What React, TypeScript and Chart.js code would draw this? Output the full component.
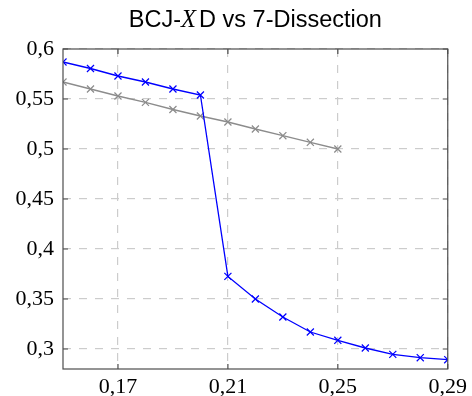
import React, { useEffect, useRef } from "react";
import { Chart, registerables } from "chart.js";

Chart.register(...registerables);

const blueX = [0.15, 0.16, 0.17, 0.18, 0.19, 0.2, 0.21, 0.22, 0.23, 0.24, 0.25, 0.26, 0.27, 0.28, 0.29];
const blueY = [0.587, 0.5805, 0.573, 0.567, 0.56, 0.554, 0.3726, 0.35, 0.332, 0.317, 0.3087, 0.301, 0.2946, 0.2913, 0.2893];
const grayX = [0.15, 0.16, 0.17, 0.18, 0.19, 0.2, 0.21, 0.22, 0.23, 0.24, 0.25];
const grayY = [0.567, 0.56, 0.553, 0.5466, 0.5395, 0.533, 0.527, 0.52, 0.5133, 0.5067, 0.5];
const xTicks = [0.17, 0.21, 0.25, 0.29];
const yTicks = [0.3, 0.35, 0.4, 0.45, 0.5, 0.55, 0.6];
const titleParts = [
  { text: "BCJ-", italic: false },
  { text: "X", italic: true },
  { text: "D vs 7-Dissection", italic: false },
];

const fmt = (v: number) => String(Math.round(v * 100) / 100).replace(".", ",");

const boxPlugin = {
  id: "boxPlugin",
  afterDraw(chart: any) {
    const { ctx, chartArea: a, scales } = chart;
    ctx.save();
    ctx.strokeStyle = "#4d4d4d";
    ctx.lineWidth = 1.2;
    ctx.setLineDash([]);
    ctx.strokeRect(a.left, a.top, a.right - a.left, a.bottom - a.top);
    const t = 5;
    ctx.beginPath();
    for (const v of xTicks) {
      const px = scales.x.getPixelForValue(v);
      ctx.moveTo(px, a.bottom);
      ctx.lineTo(px, a.bottom - t);
      ctx.moveTo(px, a.top);
      ctx.lineTo(px, a.top + t);
    }
    for (const v of yTicks) {
      const py = scales.y.getPixelForValue(v);
      ctx.moveTo(a.left, py);
      ctx.lineTo(a.left + t, py);
      ctx.moveTo(a.right, py);
      ctx.lineTo(a.right - t, py);
    }
    ctx.stroke();
    // title
    const normal = "23.5px 'Liberation Sans', sans-serif";
    const ital = "italic 24.5px 'Liberation Serif', serif";
    let total = 0;
    for (const p of titleParts) {
      ctx.font = p.italic ? ital : normal;
      total += ctx.measureText(p.text).width + (p.italic ? 3 : 0);
    }
    let x = (a.left + a.right) / 2 - total / 2;
    ctx.fillStyle = "#000";
    ctx.textBaseline = "alphabetic";
    ctx.textAlign = "left";
    for (const p of titleParts) {
      ctx.font = p.italic ? ital : normal;
      ctx.fillText(p.text, x, 27);
      x += ctx.measureText(p.text).width + (p.italic ? 3 : 0);
    }
    ctx.restore();
  },
};

export default function App() {
  const ref = useRef<HTMLCanvasElement>(null);
  useEffect(() => {
    if (!ref.current) return;
    const chart = new Chart(ref.current, {
      type: "line",
      data: {
        datasets: [
          {
            data: blueX.map((x, i) => ({ x, y: blueY[i] })),
            borderColor: "#0000ff",
            backgroundColor: "#0000ff",
            borderWidth: 1.3,
            pointStyle: "crossRot",
            pointRadius: 5,
            pointBorderWidth: 1.2,
            tension: 0,
          },
          {
            data: grayX.map((x, i) => ({ x, y: grayY[i] })),
            borderColor: "#8c8c8c",
            backgroundColor: "#8c8c8c",
            borderWidth: 1.3,
            pointStyle: "crossRot",
            pointRadius: 5,
            pointBorderWidth: 1.2,
            tension: 0,
          },
        ],
      },
      options: {
        animation: false,
        responsive: true,
        maintainAspectRatio: false,
        layout: { padding: { top: 49, right: 21, left: 0, bottom: 0 } },
        plugins: { legend: { display: false }, tooltip: { enabled: false }, title: { display: false } },
        scales: {
          x: {
            type: "linear",
            min: 0.15,
            max: 0.29,
            afterBuildTicks: (s: any) => {
              s.ticks = xTicks.map((v) => ({ value: v }));
            },
            afterFit: (s: any) => {
              s.height = 27;
            },
            ticks: {
              callback: (v: any) => fmt(Number(v)),
              font: { family: "'Liberation Serif', serif", size: 22 },
              color: "#000",
              padding: 5,
              maxRotation: 0,
            },
            grid: { color: "#cccccc", lineWidth: 1.2, drawTicks: false },
            border: { display: false, dash: [8, 8] },
          },
          y: {
            type: "linear",
            min: 0.28,
            max: 0.6,
            afterBuildTicks: (s: any) => {
              s.ticks = yTicks.map((v) => ({ value: v }));
            },
            afterFit: (s: any) => {
              s.width = 63;
            },
            ticks: {
              callback: (v: any) => fmt(Number(v)),
              font: { family: "'Liberation Serif', serif", size: 22 },
              color: "#000",
              padding: 9,
            },
            grid: { color: "#cccccc", lineWidth: 1.2, drawTicks: false },
            border: { display: false, dash: [8, 8] },
          },
        },
      },
      plugins: [boxPlugin],
    } as any);
    return () => chart.destroy();
  }, []);
  return (
    <div style={{ position: "fixed", left: 0, top: 0, width: 472, height: 396, background: "#fff" }}>
      <canvas ref={ref} />
    </div>
  );
}
